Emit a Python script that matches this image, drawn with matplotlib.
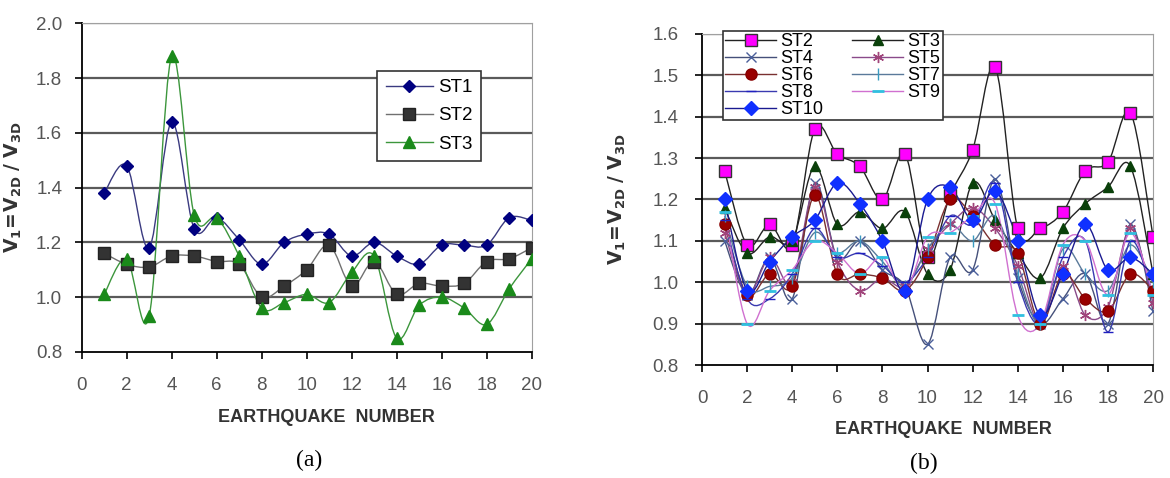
import numpy as np
import matplotlib
matplotlib.use("Agg")
import matplotlib.pyplot as plt
from matplotlib.path import Path
from matplotlib.patches import PathPatch
from matplotlib.lines import Line2D

plt.rcParams['font.family'] = ['Liberation Sans', 'DejaVu Sans']

# ---- data -------------------------------------------------------------
quake = list(range(1, 21))

# panel (a)
st1_a = [1.38, 1.48, 1.18, 1.64, 1.25, 1.29, 1.21, 1.12, 1.20, 1.23,
         1.23, 1.15, 1.20, 1.15, 1.12, 1.19, 1.19, 1.19, 1.29, 1.28]
st2_a = [1.16, 1.12, 1.11, 1.15, 1.15, 1.13, 1.12, 1.00, 1.04, 1.10,
         1.19, 1.04, 1.13, 1.01, 1.05, 1.04, 1.05, 1.13, 1.14, 1.18]
st3_a = [1.01, 1.14, 0.93, 1.88, 1.30, 1.29, 1.15, 0.96, 0.98, 1.01,
         0.98, 1.09, 1.15, 0.85, 0.97, 1.00, 0.96, 0.90, 1.03, 1.14]

# panel (b)
st2_b = [1.27, 1.09, 1.14, 1.09, 1.37, 1.31, 1.28, 1.20, 1.31, 1.06,
         1.21, 1.32, 1.52, 1.13, 1.13, 1.17, 1.27, 1.29, 1.41, 1.11]
st3_b = [1.18, 1.07, 1.11, 1.10, 1.28, 1.14, 1.17, 1.13, 1.17, 1.02,
         1.03, 1.24, 1.15, 1.07, 1.01, 1.13, 1.19, 1.23, 1.28, 1.02]
st4_b = [1.10, 0.97, 1.06, 0.96, 1.24, 1.06, 1.10, 1.03, 0.99, 0.85,
         1.06, 1.03, 1.25, 1.01, 0.90, 0.96, 1.02, 0.90, 1.14, 0.93]
st5_b = [1.12, 0.97, 1.06, 1.00, 1.23, 1.05, 0.98, 1.01, 0.99, 1.08,
         1.14, 1.18, 1.13, 1.04, 0.90, 1.04, 0.92, 0.94, 1.13, 0.95]
st6_b = [1.14, 0.97, 1.02, 0.99, 1.21, 1.02, 1.02, 1.01, 0.98, 1.06,
         1.20, 1.16, 1.09, 1.07, 0.90, 1.02, 0.96, 0.93, 1.02, 0.98]
st7_b = [1.16, 0.99, 0.99, 1.01, 1.12, 1.07, 1.10, 1.05, 0.99, 1.08,
         1.14, 1.10, 1.16, 1.02, 0.90, 1.08, 1.02, 0.98, 1.09, 1.00]
st8_b = [1.15, 0.96, 0.96, 1.02, 1.13, 1.06, 1.07, 1.04, 1.00, 1.06,
         1.16, 1.14, 1.24, 1.00, 0.90, 1.06, 1.10, 0.88, 1.10, 0.97]
st9_b = [1.17, 0.90, 0.98, 1.03, 1.10, 1.07, 1.02, 1.06, 0.98, 1.11,
         1.12, 1.16, 1.19, 0.92, 0.90, 1.09, 1.10, 0.97, 1.12, 0.97]
st10_b = [1.20, 0.98, 1.05, 1.11, 1.15, 1.24, 1.19, 1.10, 0.98, 1.20,
          1.23, 1.15, 1.22, 1.10, 0.92, 1.02, 1.14, 1.03, 1.06, 1.02]

xticks = list(range(0, 21, 2))
yticks_a = [0.8, 1.0, 1.2, 1.4, 1.6, 1.8, 2.0]
yticks_b = [0.8, 0.9, 1.0, 1.1, 1.2, 1.3, 1.4, 1.5, 1.6]


def smooth_path(x, y):
    # excel-like smoothed line: catmull-rom turned into cubic beziers
    pts = np.column_stack([x, y]).astype(float)
    n = len(pts)
    verts = [pts[0]]
    codes = [Path.MOVETO]
    for i in range(n - 1):
        p0 = pts[i - 1] if i > 0 else pts[i]
        p1 = pts[i]
        p2 = pts[i + 1]
        p3 = pts[i + 2] if i + 2 < n else pts[i + 1]
        verts += [p1 + (p2 - p0) / 6, p2 - (p3 - p1) / 6, p2]
        codes += [Path.CURVE4] * 3
    return Path(verts, codes)


def series(ax, y, label, lc, marker, mfc, mec, ms, lw=1.0, mew=1.0):
    ax.add_patch(PathPatch(smooth_path(quake, y), fill=False, edgecolor=lc,
                           lw=lw, zorder=3))
    ax.plot(quake, y, ls='none', marker=marker, mfc=mfc, mec=mec, ms=ms,
            mew=mew, zorder=4)
    return Line2D([], [], color=lc, lw=lw, marker=marker, mfc=mfc, mec=mec,
                  ms=ms, mew=mew, label=label)


def style_axes(ax, yticks, ylim, ypad):
    ax.set_xlim(0, 20)
    ax.set_ylim(*ylim)
    ax.set_xticks(xticks)
    ax.set_yticks(yticks)
    ax.set_yticklabels([f'{v:.1f}' for v in yticks])
    for v in yticks[1:]:
        ax.axhline(v, color='#5a5a5a', lw=1.6, zorder=1)
    ax.spines['left'].set_color('black')
    ax.spines['bottom'].set_color('black')
    ax.spines['left'].set_linewidth(1.3)
    ax.spines['bottom'].set_linewidth(1.3)
    ax.spines['top'].set_color('#a0a0a0')
    ax.spines['right'].set_color('#a0a0a0')
    ax.tick_params(axis='both', direction='out', length=5, width=1.2,
                   labelsize=13.5, labelcolor='#555555', color='black')
    ax.tick_params(axis='x', pad=13)
    ax.tick_params(axis='y', pad=ypad)
    ax.set_xlabel('EARTHQUAKE  NUMBER', fontsize=13, fontweight='bold',
                  color='#333333')
    ax.set_ylabel(r'$\mathbf{V_1\!=\!V_{2D}\ /\ V_{3D}}$', fontsize=13.5,
                  color='#333333')


fig = plt.figure(figsize=(11.7, 4.78), dpi=100)

# ---- (a) --------------------------------------------------------------
ax1 = fig.add_axes([0.0698, 0.264, 0.3846, 0.687])
style_axes(ax1, yticks_a, (0.8, 2.0), 9)
h1 = series(ax1, st1_a, 'ST1', '#3a3a80', 'D', '#000080', '#000080', 6.5)
h2 = series(ax1, st2_a, 'ST2', '#707070', 's', '#333333', '#222222', 8)
h3 = series(ax1, st3_a, 'ST3', '#3c963c', '^', '#1a8a1a', '#1a8a1a', 8.5)
leg = ax1.legend(handles=[h1, h2, h3], loc='upper left',
                 bbox_to_anchor=(0.636, 0.885), fontsize=13.5,
                 fancybox=False, framealpha=1, edgecolor='#333333',
                 handlelength=2.5, labelspacing=0.6, borderpad=0.45,
                 handletextpad=0.3)
leg.get_frame().set_linewidth(1.2)
ax1.xaxis.set_label_coords(0.545, -0.175)
ax1.yaxis.set_label_coords(-0.128, 0.5)

# ---- (b) --------------------------------------------------------------
ax2 = fig.add_axes([0.6, 0.2364, 0.3855, 0.6925])
style_axes(ax2, yticks_b, (0.8, 1.6), 12)
g2 = series(ax2, st2_b, 'ST2', '#222222', 's', '#ff00ff', '#333333', 8.5)
g3 = series(ax2, st3_b, 'ST3', '#222222', '^', '#0a400a', '#0a400a', 7.5)
g4 = series(ax2, st4_b, 'ST4', '#45507a', 'x', 'none', '#4a5f9a', 7.5)
g5 = series(ax2, st5_b, 'ST5', '#8a4a8a', (6, 2, 0), 'none', '#a0447a', 8)
g6 = series(ax2, st6_b, 'ST6', '#7a3030', 'o', '#990000', '#880000', 8)
g7 = series(ax2, st7_b, 'ST7', '#5a7a9a', '|', 'none', '#3a9ac0', 8)
g8 = series(ax2, st8_b, 'ST8', '#3a3ab0', '_', 'none', '#2020c0', 7)
g9 = series(ax2, st9_b, 'ST9', '#d070d0', '_', 'none', '#30c0e0', 8, mew=2)
g10 = series(ax2, st10_b, 'ST10', '#1a1a90', 'D', '#1030ff', '#1030ff', 7)
leg2 = ax2.legend(handles=[g2, g4, g6, g8, g10, g3, g5, g7, g9], ncol=2,
                  loc='upper left', bbox_to_anchor=(0.035, 1.025),
                  fontsize=13, fancybox=False, framealpha=1,
                  edgecolor='#333333', handlelength=2.8, labelspacing=0.0,
                  borderpad=0.12, handletextpad=0.25, columnspacing=1.6,
                  borderaxespad=0.3)
leg2.get_frame().set_linewidth(1.2)
ax2.xaxis.set_label_coords(0.535, -0.17)
ax2.yaxis.set_label_coords(-0.165, 0.5)

fig.text(0.264, 1 - 460 / 478, '(a)', ha='center', va='center',
         fontsize=17, family='Liberation Serif')
fig.text(0.79, 1 - 463 / 478, '(b)', ha='center', va='center',
         fontsize=17, family='Liberation Serif')

fig.savefig('out.png', dpi=100)
